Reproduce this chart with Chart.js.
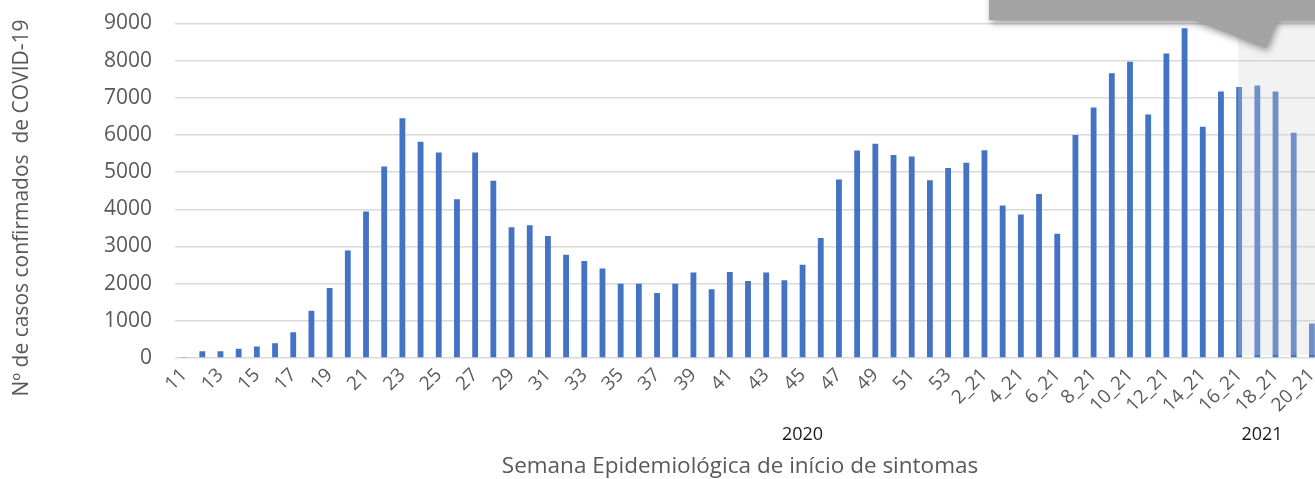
<!DOCTYPE html>
<html>
<head>
<meta charset="utf-8">
<script src="https://cdn.jsdelivr.net/npm/chart.js@4/dist/chart.umd.min.js"></script>
<style>
  html, body { margin: 0; padding: 0; overflow: hidden; background: #ffffff; }
  #wrap { width: 1321px; height: 479px; position: relative; }
</style>
</head>
<body>
<div id="wrap"><canvas id="c" width="1321" height="479"></canvas></div>
<script>
// ---- data ----
const weekLabels = [
  '11','12','13','14','15','16','17','18','19','20',
  '21','22','23','24','25','26','27','28','29','30',
  '31','32','33','34','35','36','37','38','39','40',
  '41','42','43','44','45','46','47','48','49','50',
  '51','52','53',
  '1_21','2_21','3_21','4_21','5_21','6_21','7_21','8_21','9_21','10_21',
  '11_21','12_21','13_21','14_21','15_21','16_21','17_21','18_21','19_21','20_21'
];
const casos = [
  15, 180, 180, 250, 310, 395, 690, 1270, 1880, 2890,
  3940, 5150, 6450, 5820, 5530, 4270, 5530, 4770, 3520, 3570,
  3280, 2780, 2610, 2410, 2000, 2000, 1750, 2000, 2300, 1850,
  2310, 2070, 2300, 2090, 2510, 3230, 4800, 5580, 5760, 5460,
  5420, 4780, 5110,
  5250, 5590, 4100, 3860, 4410, 3340, 6000, 6740, 7660, 7970,
  6550, 8190, 8870, 6220, 7170, 7290, 7330, 7170, 6060, 930
];
const yTicks = [0, 1000, 2000, 3000, 4000, 5000, 6000, 7000, 8000, 9000];
const yearLabels = ['2020', '2021'];
const yearAnchors = [34, 59.26];        // category positions where the year labels sit
const shadedFrom = 57.95;               // category position where the grey band begins
const yTitle = 'Nº de casos confirmados  de COVID-19';
const xTitle = 'Semana Epidemiológica de início de sintomas';

Chart.defaults.font.family = "'Open Sans', sans-serif";

const extras = {
  id: 'extras',
  afterDatasetsDraw(chart) {
    const ctx = chart.ctx, xs = chart.scales.x;
    const x0 = xs.getPixelForValue(shadedFrom);
    ctx.save();
    ctx.fillStyle = 'rgba(212,212,212,0.3)';
    ctx.fillRect(x0, 0, chart.width - x0, 355);
    ctx.restore();
  },
  afterDraw(chart) {
    const ctx = chart.ctx, xs = chart.scales.x;
    // callout
    ctx.save();
    ctx.shadowColor = 'rgba(0,0,0,0.4)';
    ctx.shadowBlur = 7;
    ctx.shadowOffsetX = 2;
    ctx.shadowOffsetY = 3;
    ctx.fillStyle = '#a3a3a3';
    ctx.beginPath();
    ctx.moveTo(989, -20);
    ctx.lineTo(1340, -20);
    ctx.lineTo(1340, 20);
    ctx.lineTo(1277, 20);
    ctx.lineTo(1266, 48);
    ctx.lineTo(1193, 20);
    ctx.lineTo(989, 20);
    ctx.closePath();
    ctx.fill();
    ctx.restore();

    // year labels
    ctx.save();
    ctx.fillStyle = '#1a1a1a';
    ctx.font = "18px 'Open Sans', sans-serif";
    ctx.textAlign = 'center';
    ctx.textBaseline = 'middle';
    yearLabels.forEach((t, i) => ctx.fillText(t, xs.getPixelForValue(yearAnchors[i]), 435));
    ctx.restore();

    // axis titles
    ctx.save();
    ctx.fillStyle = '#595959';
    ctx.textAlign = 'center';
    ctx.textBaseline = 'middle';
    ctx.font = "22.5px 'Open Sans', sans-serif";
    ctx.fillText(xTitle, 740, 467);
    ctx.font = "21px 'Open Sans', sans-serif";
    ctx.translate(22, 208);
    ctx.rotate(-Math.PI / 2);
    ctx.fillText(yTitle, 0, 0);
    ctx.restore();
  }
};

new Chart(document.getElementById('c'), {
  type: 'bar',
  data: {
    labels: weekLabels,
    datasets: [{
      data: casos,
      backgroundColor: '#4472c4',
      borderWidth: 0,
      barPercentage: 0.32,
      categoryPercentage: 1.0
    }]
  },
  options: {
    responsive: false,
    animation: false,
    layout: { padding: { top: 23.4, left: 0, right: 0, bottom: 0 } },
    plugins: { legend: { display: false }, tooltip: { enabled: false } },
    scales: {
      x: {
        grid: { display: false, drawTicks: false },
        border: { display: false },
        ticks: {
          autoSkip: false,
          minRotation: 45,
          maxRotation: 45,
          padding: 6,
          color: '#595959',
          font: { size: 19 },
          callback: function (v, i) { return i % 2 === 0 ? weekLabels[i] : ''; }
        },
        afterFit(s) { s.height = 121; s.paddingLeft = 0; s.paddingRight = 0; }
      },
      y: {
        min: 0,
        max: 9000,
        afterBuildTicks(s) { s.ticks = yTicks.map(v => ({ value: v })); },
        grid: { color: '#d9d9d9', lineWidth: 1.5, drawTicks: false },
        border: { display: false },
        ticks: { color: '#595959', padding: 23, font: { size: 21 }, callback: v => String(v) },
        afterFit(s) { s.width = 175; s.paddingTop = 0; s.paddingBottom = 0; }
      }
    }
  },
  plugins: [extras]
});
</script>
</body>
</html>
